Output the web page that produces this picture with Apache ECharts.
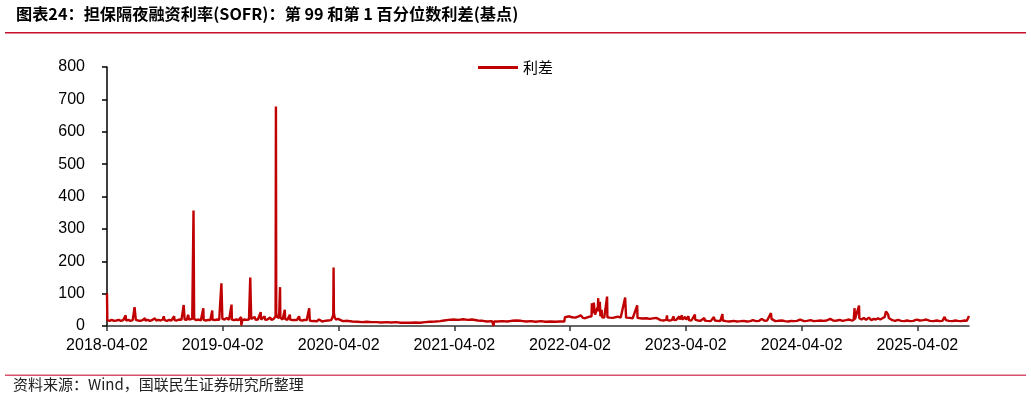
<!DOCTYPE html>
<html>
<head>
<meta charset="utf-8">
<script src="https://cdn.jsdelivr.net/npm/echarts@6/dist/echarts.min.js"></script>
<style>html,body{margin:0;padding:0;background:#fff;}#c{width:1031px;height:399px;}</style>
</head>
<body>
<div id="c"></div>
<script>
// ---- data (basis points) ----
const seriesName = '利差';
const d2018 = ['2018-04-02','2018-04-03','2018-04-10','2018-04-17','2018-04-24','2018-04-30','2018-05-02','2018-05-09','2018-05-16','2018-05-23','2018-05-31','2018-06-01','2018-06-08','2018-06-15','2018-06-22','2018-06-28','2018-07-02','2018-07-09','2018-07-16','2018-07-23','2018-07-31','2018-08-01','2018-08-08','2018-08-15','2018-08-22','2018-08-31','2018-09-04','2018-09-11','2018-09-18','2018-09-25','2018-09-28','2018-10-01','2018-10-08','2018-10-15','2018-10-22','2018-10-31','2018-11-01','2018-11-08','2018-11-15','2018-11-23','2018-11-30','2018-12-03','2018-12-10','2018-12-14','2018-12-17','2018-12-21','2018-12-27','2018-12-31'];
const v2018 = [100,18,16,19,16,22,17,19,16,18,33,17,19,16,18,58,19,17,16,18,24,17,19,16,18,24,17,19,17,20,30,18,16,19,17,30,18,17,20,19,65,20,19,35,20,24,22,357];
const d2019 = ['2019-01-02','2019-01-09','2019-01-16','2019-01-23','2019-01-31','2019-02-01','2019-02-08','2019-02-15','2019-02-22','2019-02-28','2019-03-01','2019-03-08','2019-03-15','2019-03-22','2019-03-29','2019-04-01','2019-04-08','2019-04-15','2019-04-22','2019-04-30','2019-05-01','2019-05-08','2019-05-15','2019-05-22','2019-05-30','2019-05-31','2019-06-03','2019-06-10','2019-06-17','2019-06-24','2019-06-28','2019-07-01','2019-07-05','2019-07-12','2019-07-15','2019-07-22','2019-07-31','2019-08-01','2019-08-07','2019-08-12','2019-08-14','2019-08-21','2019-08-30','2019-09-03','2019-09-10','2019-09-16','2019-09-17','2019-09-18','2019-09-20','2019-09-24','2019-09-27','2019-09-30','2019-10-01','2019-10-08','2019-10-15','2019-10-16','2019-10-23','2019-10-31','2019-11-01','2019-11-08','2019-11-15','2019-11-22','2019-11-29','2019-12-02','2019-12-09','2019-12-16','2019-12-23','2019-12-31'];
const v2019 = [22,18,20,17,55,19,17,19,18,48,20,18,20,19,132,22,20,25,19,66,20,18,20,18,28,2,18,20,19,20,150,22,19,28,19,20,43,20,18,30,19,20,26,19,22,30,678,40,28,22,25,120,26,20,50,22,19,35,20,18,19,18,30,18,17,19,18,55];
const d2020 = ['2020-01-02','2020-01-09','2020-01-16','2020-01-23','2020-01-31','2020-02-03','2020-02-10','2020-02-18','2020-02-28','2020-03-02','2020-03-09','2020-03-13','2020-03-16','2020-03-17','2020-03-18','2020-03-20','2020-03-24','2020-03-31','2020-04-01','2020-04-15','2020-04-30','2020-05-15','2020-06-01','2020-06-15','2020-06-30','2020-07-15','2020-07-31','2020-08-14','2020-08-31','2020-09-15','2020-09-30','2020-10-15','2020-10-30','2020-11-16','2020-11-30','2020-12-15','2020-12-31'];
const v2020 = [17,15,16,14,20,15,14,16,17,16,18,25,35,181,40,28,20,22,16,15,16,14,13,12,13,12,12,11,12,11,12,10,10,10,11,10,12];
const d2021 = ['2021-01-04','2021-01-15','2021-02-01','2021-02-16','2021-03-01','2021-03-15','2021-03-31','2021-04-15','2021-04-30','2021-05-14','2021-05-28','2021-06-15','2021-06-30','2021-07-15','2021-07-30','2021-08-03','2021-08-04','2021-08-05','2021-08-16','2021-08-31','2021-09-15','2021-09-30','2021-10-15','2021-10-29','2021-11-15','2021-11-30','2021-12-15','2021-12-31'];
const v2021 = [12,13,14,15,17,19,20,19,21,19,20,17,16,14,15,14,0,14,14,15,14,16,17,16,14,15,13,15];
const d2022 = ['2022-01-14','2022-01-31','2022-02-15','2022-02-28','2022-03-15','2022-03-17','2022-03-22','2022-03-31','2022-04-08','2022-04-14','2022-04-19','2022-04-29','2022-05-06','2022-05-13','2022-05-20','2022-05-31','2022-06-03','2022-06-09','2022-06-10','2022-06-13','2022-06-16','2022-06-20','2022-06-29','2022-06-30','2022-07-01','2022-07-05','2022-07-07','2022-07-11','2022-07-12','2022-07-19','2022-07-28','2022-07-29','2022-08-05','2022-08-15','2022-08-31','2022-09-09','2022-09-15','2022-09-23','2022-09-26','2022-09-30','2022-10-07','2022-10-17','2022-10-31','2022-11-01','2022-11-15','2022-11-30','2022-12-09','2022-12-15','2022-12-30'];
const v2022 = [13,14,13,14,14,27,25,30,27,33,26,30,33,25,24,28,26,30,70,40,72,35,60,86,45,75,30,50,27,26,91,27,26,25,29,26,25,88,26,30,25,24,64,25,23,24,22,23,25];
const d2023 = ['2023-01-03','2023-01-13','2023-01-23','2023-01-31','2023-02-02','2023-02-03','2023-02-10','2023-02-17','2023-02-23','2023-02-24','2023-03-03','2023-03-13','2023-03-14','2023-03-21','2023-03-22','2023-03-31','2023-04-03','2023-04-11','2023-04-12','2023-04-20','2023-05-01','2023-05-02','2023-05-10','2023-05-19','2023-05-31','2023-06-01','2023-06-09','2023-06-20','2023-06-30','2023-07-03','2023-07-12','2023-07-20','2023-07-27','2023-07-28','2023-08-07','2023-08-18','2023-08-31','2023-09-11','2023-09-22','2023-10-02','2023-10-12','2023-10-23','2023-10-31','2023-11-10','2023-11-20','2023-11-28','2023-11-30','2023-12-07','2023-12-15','2023-12-20','2023-12-27','2023-12-29'];
const v2023 = [19,18,17,20,33,18,17,18,30,18,19,30,20,33,20,28,20,30,18,17,35,20,17,16,25,17,16,15,28,17,16,15,37,17,15,14,16,14,15,16,14,15,18,15,16,22,20,16,17,18,40,22];
const d2024 = ['2024-01-02','2024-01-10','2024-01-19','2024-01-31','2024-02-09','2024-02-20','2024-02-29','2024-03-08','2024-03-18','2024-03-28','2024-04-01','2024-04-10','2024-04-19','2024-04-30','2024-05-01','2024-05-10','2024-05-20','2024-05-31','2024-06-10','2024-06-20','2024-07-01','2024-07-02','2024-07-12','2024-07-22','2024-07-31','2024-08-09','2024-08-20','2024-08-30','2024-09-06','2024-09-13','2024-09-16','2024-09-17','2024-09-23','2024-09-30','2024-10-01','2024-10-08','2024-10-15','2024-10-22','2024-10-31','2024-11-01','2024-11-08','2024-11-15','2024-11-22','2024-11-29','2024-12-06','2024-12-13','2024-12-20','2024-12-24','2024-12-27','2024-12-31'];
const v2024 = [17,15,16,17,15,14,16,15,16,20,16,15,16,18,16,15,16,17,16,17,22,17,16,17,19,16,18,20,17,18,55,20,22,63,24,20,25,19,26,20,18,22,20,24,20,24,28,45,40,35];
const d2025 = ['2025-01-02','2025-01-06','2025-01-13','2025-01-22','2025-01-31','2025-02-10','2025-02-20','2025-02-28','2025-03-10','2025-03-20','2025-03-31','2025-04-01','2025-04-02','2025-04-10','2025-04-21','2025-04-30','2025-05-01','2025-05-12','2025-05-22','2025-06-02','2025-06-12','2025-06-20','2025-06-27','2025-06-30','2025-07-01','2025-07-11','2025-07-21','2025-07-31','2025-08-08','2025-08-18','2025-08-29','2025-09-05','2025-09-10','2025-09-12'];
const v2025 = [25,22,18,16,19,16,15,17,15,16,20,26,18,17,18,20,17,16,15,17,15,16,28,26,18,16,15,17,16,15,17,16,18,31];
const xTickLabels = ['2018-04-02','2019-04-02','2020-04-02','2021-04-02','2022-04-02','2023-04-02','2024-04-02','2025-04-02'];
const yTicks = {min: 0, max: 800, interval: 100};

// x is expressed as whole days since the first date; labels map back to dates
function parts(s) { return s.split('-').map(Number); }
const p0 = parts(d2018[0]);
const t0 = Date.UTC(p0[0], p0[1] - 1, p0[2]);
function dayOf(s) { const p = parts(s); return Math.round((Date.UTC(p[0], p[1] - 1, p[2]) - t0) / 86400000); }
function pad(n) { return (n < 10 ? '0' : '') + n; }
function labelOf(v) { const d = new Date(t0 + Math.round(v) * 86400000); return d.getUTCFullYear() + '-' + pad(d.getUTCMonth() + 1) + '-' + pad(d.getUTCDate()); }
const allDates = [].concat(d2018, d2019, d2020, d2021, d2022, d2023, d2024, d2025);
const allVals = [].concat(v2018, v2019, v2020, v2021, v2022, v2023, v2024, v2025);
const data = allDates.map((d, i) => [dayOf(d), allVals[i]]);
const tickDays = xTickLabels.map(dayOf);

const chart = echarts.init(document.getElementById('c'));
const font = 'Liberation Sans, Arial, sans-serif';
chart.setOption({
  animation: false,
  backgroundColor: '#fff',
  grid: {left: 107, right: 62, top: 67, bottom: 73, containLabel: false},
  legend: {
    data: [seriesName], top: 60, left: 478, padding: 0,
    icon: 'rect', itemWidth: 40, itemHeight: 3, itemGap: 6,
    textStyle: {fontSize: 15, color: '#000', fontFamily: 'Noto Sans CJK SC'}
  },
  xAxis: {
    type: 'value', min: 0, max: dayOf(allDates[allDates.length - 1]),
    axisLine: {show: true, lineStyle: {color: '#333', width: 1.5}},
    axisTick: {show: true, length: 5, customValues: tickDays, lineStyle: {color: '#333', width: 1.5}},
    axisLabel: {
      customValues: tickDays, margin: 12, fontSize: 16, color: '#000', fontFamily: font,
      formatter: labelOf
    },
    splitLine: {show: false}
  },
  yAxis: {
    type: 'value', min: yTicks.min, max: yTicks.max, interval: yTicks.interval,
    axisLine: {show: true, lineStyle: {color: '#000', width: 1.5}},
    axisTick: {show: true, length: 5, lineStyle: {color: '#000', width: 1.5}},
    axisLabel: {fontSize: 16, color: '#000', fontFamily: font, margin: 22},
    splitLine: {show: false}
  },
  series: [{
    name: seriesName, type: 'line', data: data, showSymbol: false, symbol: 'none',
    lineStyle: {color: '#c00000', width: 2.4}, itemStyle: {color: '#c00000'}
  }],
  graphic: [
    {type: 'text', left: 16, top: 6, style: {text: '图表24：担保隔夜融资利率(SOFR)：第 99 和第 1 百分位数利差(基点)', fontSize: 16.2, fontWeight: 'bold', fill: '#000', fontFamily: 'Noto Sans CJK SC'}},
    {type: 'rect', shape: {x: 5, y: 32, width: 1021, height: 1.5}, style: {fill: '#c8102e'}},
    {type: 'rect', shape: {x: 5, y: 374.5, width: 1021, height: 1.5}, style: {fill: '#d9506e'}},
    {type: 'text', left: 13, top: 377, style: {text: '资料来源：Wind，国联民生证券研究所整理', fontSize: 15, fill: '#222', fontFamily: 'Noto Sans CJK SC'}}
  ]
});
</script>
</body>
</html>
